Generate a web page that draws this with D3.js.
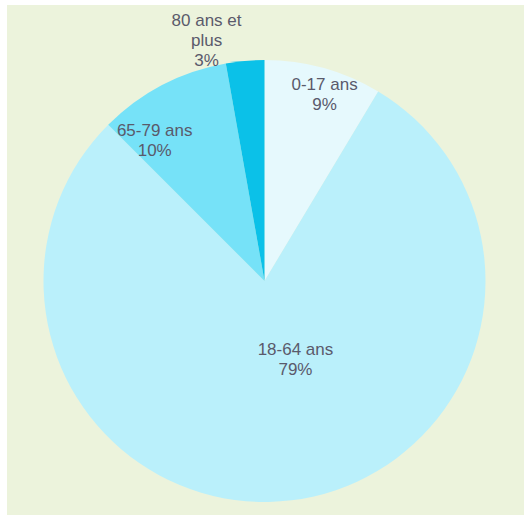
<!DOCTYPE html>
<html>
<head>
<meta charset="utf-8">
<script src="https://cdn.jsdelivr.net/npm/d3@7"></script>
<style>
  html, body { margin: 0; padding: 0; background: #fff; }
  svg { display: block; }
  .lbl { font-family: "Liberation Sans", Arial, sans-serif; font-size: 17px; fill: #5a5a6b; }
</style>
</head>
<body>
<div id="chart"></div>
<script>
// data
var categories = ["0-17 ans", "18-64 ans", "65-79 ans", "80 ans et plus"];
var values = [8.6, 78.9, 9.7, 2.8];
var colors = ["#e6f9fd", "#baf0fb", "#76e2f8", "#0bc1e8"];

// label placement (fraction of radius, angle nudge in degrees)
var labelRadius = [0.89, 0.38, 0.81, 1.12];
var labelNudge = [2.3, -14.6, -10.3, -8.5];
var labelLines = [["0-17 ans"], ["18-64 ans"], ["65-79 ans"], ["80 ans et", "plus"]];

var width = 524, height = 515;
var cx = 264.5, cy = 281, radius = 221;
var lineH = 20;

var svg = d3.select("#chart").append("svg")
    .attr("width", width)
    .attr("height", height);

// panel background
svg.append("rect")
    .attr("x", 7).attr("y", 5)
    .attr("width", width - 7).attr("height", height - 5)
    .attr("fill", "#ecf3dc");

var pie = d3.pie().sort(null).value(function (d) { return d; });
var arcs = pie(values);
var total = d3.sum(values);

var arc = d3.arc().innerRadius(0).outerRadius(radius);

var g = svg.append("g").attr("transform", "translate(" + cx + "," + cy + ")");

g.selectAll("path")
    .data(arcs)
    .enter().append("path")
    .attr("d", arc)
    .attr("fill", function (d, i) { return colors[i]; });

// labels
var deg = Math.PI / 180;
var labels = g.selectAll("text")
    .data(arcs)
    .enter().append("text")
    .attr("class", "lbl")
    .attr("text-anchor", "middle")
    .each(function (d, i) {
        var a = (d.startAngle + d.endAngle) / 2 + labelNudge[i] * deg;
        var r = labelRadius[i] * radius;
        var x = Math.sin(a) * r, y = -Math.cos(a) * r;
        var lines = labelLines[i].concat([Math.round(d.value / total * 100) + "%"]);
        var t = d3.select(this);
        lines.forEach(function (s, k) {
            t.append("tspan")
                .attr("x", x)
                .attr("y", y + (k - (lines.length - 1) / 2) * lineH + 6)
                .text(s);
        });
    });
</script>
</body>
</html>
